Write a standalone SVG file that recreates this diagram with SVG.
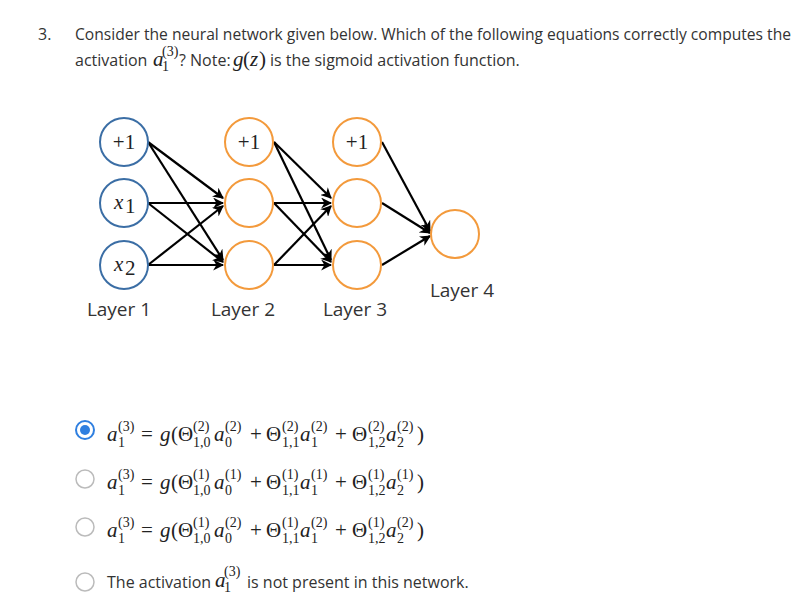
<svg xmlns="http://www.w3.org/2000/svg" width="797" height="594" viewBox="0 0 797 594">
<style>
.t{font-family:"Open Sans","Liberation Sans",sans-serif;font-size:16px;fill:#333}
.lab{font-family:"Open Sans","Liberation Sans",sans-serif;font-size:19px;fill:#333;text-anchor:middle}
.mi{font-family:"Liberation Serif",serif;font-style:italic;font-size:21px;fill:#222}
.mr{font-family:"Liberation Serif",serif;font-size:21px;fill:#222}
.s{font-family:"Liberation Serif",serif;font-size:14px;fill:#222}
.blue{fill:#fff;stroke:#3b6ea5;stroke-width:2}
.org{fill:#fff;stroke:#f39a3c;stroke-width:2}
.e{stroke:#000;stroke-width:2.2;fill:none;marker-end:url(#ah)}
.r{fill:#fff;stroke:#bbb;stroke-width:1.5}
</style>
<defs>
<marker id="ah" viewBox="0 0 10 10" refX="9" refY="5" markerWidth="5" markerHeight="5" orient="auto" markerUnits="strokeWidth">
<path d="M0,0 L10,5 L0,10 L3,5 z" fill="#000"/>
</marker>
</defs>
<rect width="797" height="594" fill="#fff"/>
<text class="t" x="38" y="40">3.</text>
<text class="t" x="75" y="40" textLength="716" lengthAdjust="spacingAndGlyphs">Consider the neural network given below. Which of the following equations correctly computes the</text>
<text class="t" x="75" y="66">activation</text>
<text class="mi" x="153" y="66" font-size="18">a</text>
<text class="s" x="162" y="56" font-size="10">(3)</text>
<text class="s" x="162" y="71" font-size="10">1</text>
<text class="t" x="179" y="66">? Note: </text>
<text class="mi" x="233" y="66" font-size="19">g</text>
<text class="mr" x="243" y="66" font-size="19">(</text>
<text class="mi" x="250" y="66" font-size="19">z</text>
<text class="mr" x="259" y="66" font-size="19">)</text>
<text class="t" x="270" y="66">is the sigmoid activation function.</text>

<g id="connectors">
<line class="e" x1="148" y1="142" x2="223" y2="198"/>
<line class="e" x1="148" y1="142" x2="223" y2="260"/>
<line class="e" x1="148" y1="203" x2="223" y2="203"/>
<line class="e" x1="148" y1="203" x2="223" y2="262"/>
<line class="e" x1="148" y1="265" x2="223" y2="206"/>
<line class="e" x1="148" y1="265" x2="223" y2="265"/>
<line class="e" x1="274" y1="142" x2="331" y2="198"/>
<line class="e" x1="274" y1="142" x2="331" y2="260"/>
<line class="e" x1="274" y1="203" x2="331" y2="203"/>
<line class="e" x1="274" y1="203" x2="331" y2="262"/>
<line class="e" x1="274" y1="265" x2="331" y2="206"/>
<line class="e" x1="274" y1="265" x2="331" y2="265"/>
<line class="e" x1="382" y1="142" x2="430" y2="231"/>
<line class="e" x1="382" y1="203" x2="430" y2="233"/>
<line class="e" x1="382" y1="265" x2="430" y2="236"/>
</g>

<g id="l1_bias"><circle class="blue" cx="124" cy="142" r="24"/><text class="mr" x="124" y="149" text-anchor="middle" font-size="19">+1</text></g>
<g id="l1_x1"><circle class="blue" cx="124" cy="203" r="24"/><text class="mi" x="114" y="209" font-size="21">x</text><text class="mr" x="125" y="213" font-size="15">1</text></g>
<g id="l1_x2"><circle class="blue" cx="124" cy="265" r="24"/><text class="mi" x="114" y="271" font-size="21">x</text><text class="mr" x="125" y="275" font-size="15">2</text></g>
<g id="l2_bias"><circle class="org" cx="249" cy="142" r="24"/><text class="mr" x="249" y="149" text-anchor="middle" font-size="19">+1</text></g>
<g id="l2_a1"><circle class="org" cx="249" cy="203" r="24"/></g>
<g id="l2_a2"><circle class="org" cx="249" cy="265" r="24"/></g>
<g id="l3_bias"><circle class="org" cx="357" cy="142" r="24"/><text class="mr" x="357" y="149" text-anchor="middle" font-size="19">+1</text></g>
<g id="l3_a1"><circle class="org" cx="357" cy="203" r="24"/></g>
<g id="l3_a2"><circle class="org" cx="357" cy="265" r="24"/></g>
<g id="l4_out"><circle class="org" cx="455" cy="234" r="24"/></g>

<text class="lab" x="119" y="316">Layer 1</text>
<text class="lab" x="243" y="316">Layer 2</text>
<text class="lab" x="355" y="316">Layer 3</text>
<text class="lab" x="462" y="297">Layer 4</text>

<circle cx="85" cy="430" r="9" fill="#fff" stroke="#2f7fe0" stroke-width="2"/>
<circle cx="85" cy="430" r="5" fill="#2f7fe0"/>
<g transform="translate(0,441)">
<text class="mi" x="107" y="0">a</text><text class="s" x="118" y="-10">(3)</text><text class="s" x="118" y="6">1</text>
<text class="mr" x="141" y="0">=</text>
<text class="mi" x="160" y="0">g</text><text class="mr" x="171" y="0">(Θ</text><text class="s" x="193" y="-10">(2)</text><text class="s" x="193" y="6">1,0</text>
<text class="mi" x="214" y="0">a</text><text class="s" x="225" y="-10">(2)</text><text class="s" x="225" y="6">0</text>
<text class="mr" x="250" y="0">+</text>
<text class="mr" x="266" y="0">Θ</text><text class="s" x="282" y="-10">(2)</text><text class="s" x="282" y="6">1,1</text>
<text class="mi" x="300" y="0">a</text><text class="s" x="311" y="-10">(2)</text><text class="s" x="311" y="6">1</text>
<text class="mr" x="335" y="0">+</text>
<text class="mr" x="352" y="0">Θ</text><text class="s" x="368" y="-10">(2)</text><text class="s" x="368" y="6">1,2</text>
<text class="mi" x="386" y="0">a</text><text class="s" x="397" y="-10">(2)</text><text class="s" x="397" y="6">2</text>
<text class="mr" x="417" y="0">)</text>
</g>
<circle class="r" cx="85" cy="479" r="9"/>
<g transform="translate(0,489)">
<text class="mi" x="107" y="0">a</text><text class="s" x="118" y="-10">(3)</text><text class="s" x="118" y="6">1</text>
<text class="mr" x="141" y="0">=</text>
<text class="mi" x="160" y="0">g</text><text class="mr" x="171" y="0">(Θ</text><text class="s" x="193" y="-10">(1)</text><text class="s" x="193" y="6">1,0</text>
<text class="mi" x="214" y="0">a</text><text class="s" x="225" y="-10">(1)</text><text class="s" x="225" y="6">0</text>
<text class="mr" x="250" y="0">+</text>
<text class="mr" x="266" y="0">Θ</text><text class="s" x="282" y="-10">(1)</text><text class="s" x="282" y="6">1,1</text>
<text class="mi" x="300" y="0">a</text><text class="s" x="311" y="-10">(1)</text><text class="s" x="311" y="6">1</text>
<text class="mr" x="335" y="0">+</text>
<text class="mr" x="352" y="0">Θ</text><text class="s" x="368" y="-10">(1)</text><text class="s" x="368" y="6">1,2</text>
<text class="mi" x="386" y="0">a</text><text class="s" x="397" y="-10">(1)</text><text class="s" x="397" y="6">2</text>
<text class="mr" x="417" y="0">)</text>
</g>
<circle class="r" cx="85" cy="527" r="9"/>
<g transform="translate(0,537)">
<text class="mi" x="107" y="0">a</text><text class="s" x="118" y="-10">(3)</text><text class="s" x="118" y="6">1</text>
<text class="mr" x="141" y="0">=</text>
<text class="mi" x="160" y="0">g</text><text class="mr" x="171" y="0">(Θ</text><text class="s" x="193" y="-10">(1)</text><text class="s" x="193" y="6">1,0</text>
<text class="mi" x="214" y="0">a</text><text class="s" x="225" y="-10">(2)</text><text class="s" x="225" y="6">0</text>
<text class="mr" x="250" y="0">+</text>
<text class="mr" x="266" y="0">Θ</text><text class="s" x="282" y="-10">(1)</text><text class="s" x="282" y="6">1,1</text>
<text class="mi" x="300" y="0">a</text><text class="s" x="311" y="-10">(2)</text><text class="s" x="311" y="6">1</text>
<text class="mr" x="335" y="0">+</text>
<text class="mr" x="352" y="0">Θ</text><text class="s" x="368" y="-10">(1)</text><text class="s" x="368" y="6">1,2</text>
<text class="mi" x="386" y="0">a</text><text class="s" x="397" y="-10">(2)</text><text class="s" x="397" y="6">2</text>
<text class="mr" x="417" y="0">)</text>
</g>
<circle class="r" cx="85" cy="582" r="9"/>
<text class="t" x="107" y="588">The activation</text>
<text class="mi" x="215" y="587" font-size="18">a</text>
<text class="s" x="224" y="576" font-size="11">(3)</text>
<text class="s" x="224" y="592" font-size="11">1</text>
<text class="t" x="247" y="588">is not present in this network.</text>
</svg>
